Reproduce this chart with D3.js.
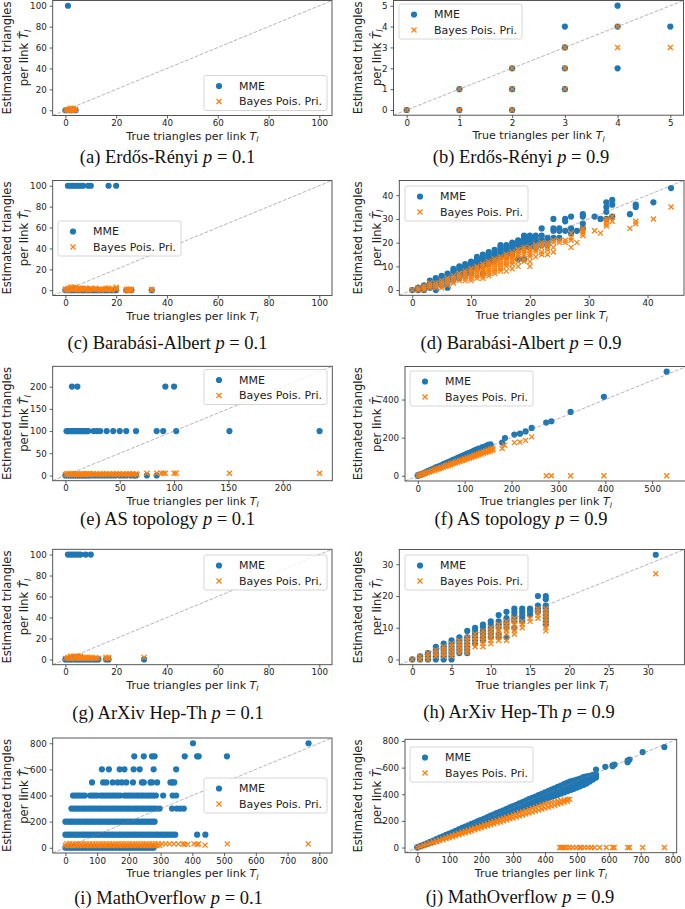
<!DOCTYPE html>
<html>
<head>
<meta charset="utf-8">
<script src="https://cdn.jsdelivr.net/npm/d3@7"></script>
<style>
  body { margin: 0; background: #fff; }
  svg text { font-family: 'DejaVu Sans', sans-serif; }
  svg text.cap { font-family: 'Liberation Serif', serif; }
</style>
</head>
<body>
<svg id="fig" width="685" height="909"></svg>
<script>
// ---- data ----
// rows: [y, [x...]]   cols: [x, [y...]]
const mmeA = [[100, [1]], [0, [0, 1, 2, 3, 4]]];
const bayA = [[0, [0]], [1, [0, 1]], [2, [0, 1, 2]], [3, [0, 1, 2]], [4, [0, 1]]];

const mmeB = [[0, [0]], [1, [0, 1]], [2, [0, 1, 2]], [3, [1, 2, 3, 4]], [4, [2, 4, 5]], [5, [4]]];
const bayB = [[0, [0]], [1, [0, 1]], [2, [0, 1, 2]], [3, [1, 2, 3]], [4, [3, 4]], [5, [3]]];

const mmeC = [
  [100, [1, 2, 3, 4, 5, 6, 7, 9, 10, 17, 20]],
  [0, [0, 1, 2, 3, 4, 5, 6, 7, 8, 9, 10, 11, 12, 13, 14, 15, 16, 17, 18, 19, 20, 24, 25, 26, 34]]
];
const bayC = [
  [0, [0, 1, 5, 9, 14, 18, 24, 25, 26, 34]],
  [1, [0, 1, 2, 3, 4, 5, 6, 7, 8, 9, 10, 11, 12, 13, 14, 15, 16, 17, 18, 20, 24, 25, 26, 34]],
  [2, [1, 2, 3, 4, 5, 6, 7, 8, 10, 12, 16, 17, 20]],
  [3, [2, 3, 4, 20]]
];

const mmeD = [
  [0, [0]], [1, [1, 0]], [2, [2, 1, 0]], [3, [4, 3, 2, 1]], [4, [5, 4, 3, 2, 0]],
  [5, [6, 5, 4, 3, 2]], [6, [7, 6, 5, 4, 3, 1]], [7, [9, 8, 7, 6, 5, 4]], [8, [10, 9, 8, 7, 6, 5]],
  [9, [11, 10, 9, 8, 7, 6]], [10, [12, 11, 10, 9, 8, 7]], [11, [14, 13, 12, 11, 10, 9]],
  [12, [15, 14, 13, 12, 11, 10, 7]], [13, [16, 15, 14, 13, 12, 11]], [14, [17, 16, 15, 14, 13, 12]],
  [15, [19, 18, 17, 16, 15, 14]], [16, [19, 18, 17, 16, 15, 14]], [17, [20, 19, 18, 17, 16, 15]],
  [18, [21, 20, 19, 18, 17, 13]], [19, [23, 22, 21, 20, 19, 18, 13]], [20, [23, 22, 21, 20, 19, 18]],
  [21, [23, 22, 21, 20, 18]], [22, [26, 23, 21, 19]], [23, [22, 21, 20, 19]], [24, [30, 26, 25, 22]],
  [25, [26, 25, 22]], [26, [30, 29, 25]], [27, [31, 26, 24]], [28, [25]], [29, [32, 31, 28, 26]],
  [31, [31]], [32, [30]], [33, [37, 35, 33, 30]], [34, [38, 36, 31]], [37, [32]], [38, [36, 35]],
  [41, [37]], [44, [43]]
];
const bayD = [
  [0, [0]], [1, [1, 0]], [2, [2, 1, 0]], [3, [3, 2, 1]], [4, [3, 2, 1]], [5, [4, 3, 2, 1]],
  [6, [5, 4, 3, 2]], [7, [6, 5, 4, 3]], [8, [7, 6, 5, 4]], [9, [8, 7, 6, 5, 4]],
  [10, [9, 8, 7, 6, 5, 4]], [11, [10, 9, 8, 7, 6, 5]], [12, [11, 10, 9, 8, 7, 6, 5]],
  [13, [12, 11, 10, 9, 8, 7, 6]], [14, [13, 12, 11, 10, 9, 8, 7]], [15, [14, 13, 12, 11, 10, 9, 8]],
  [16, [15, 14, 13, 12, 11, 10, 8]], [17, [16, 15, 14, 13, 12, 11, 9]], [18, [17, 16, 15, 14, 12, 10]],
  [19, [18, 17, 16, 15, 13, 12]], [20, [18, 17, 16, 15, 14, 12, 10]], [21, [19, 18, 17, 16, 14]],
  [22, [20, 19, 18, 16, 15]], [23, [20, 19, 18, 17, 15]], [24, [21, 20, 18, 16]], [25, [21, 20]],
  [26, [21, 20]], [27, [24, 22, 21, 18]], [28, [20]], [29, [26, 25, 24, 23]], [31, [25]], [32, [24]],
  [33, [30, 29, 28, 27]], [34, [31, 29]], [37, [26]], [38, [29, 28]], [41, [30]], [44, [35]]
];

const mmeE = [
  [200, [6, 11, 92, 100]],
  [100, [1, 2, 3, 4, 5, 6, 7, 8, 9, 10, 11, 12, 13, 14, 15, 16, 17, 18, 19, 20, 21, 26, 29, 32, 38, 44, 50, 56, 65, 84, 90, 102, 151, 234]],
  [0, [0, 2, 4, 6, 8, 10, 12, 14, 16, 18, 20, 22, 25, 28, 31, 34, 37, 40, 43, 46, 50, 53, 56, 60, 63, 65, 75, 84]]
];
const bayE = [
  [2, [0, 2, 4, 6, 8, 10, 12, 14, 16, 18, 20, 22, 24, 27, 30, 33, 36, 39, 42, 45, 48, 51, 54, 57, 60, 63, 66]],
  [4, [1, 3, 5, 7, 9, 11, 13, 15, 17, 19, 21, 23, 26, 29, 32, 35, 38, 41, 44, 47, 50, 53, 56, 59, 62, 65]],
  [5, [75, 84, 88, 90, 92, 100, 102, 151, 234]]
];

const mmeF = [
  [0, [0, 3]], [5, [4, 7]], [10, [10, 12]], [15, [15, 17]], [20, [20, 23]], [25, [26, 28]], [30, [31, 34]],
  [35, [36, 39]], [40, [41, 45]], [45, [47, 50]], [50, [52, 55]], [55, [57, 61]], [60, [63, 66]],
  [65, [68, 72]], [70, [73, 77]], [75, [78, 83]], [80, [84, 88]], [85, [89, 94]], [90, [94, 99]],
  [95, [100, 105]], [100, [105, 110]], [105, [110, 116]], [110, [115, 121]], [115, [121, 126]],
  [120, [126, 132]], [125, [131, 137]], [130, [136, 143]], [138, [145, 150]], [145, [152, 156]],
  [150, [157, 162]], [155, [160, 165]], [180, [174]], [186, [198]], [206, [216]], [218, [221]],
  [230, [233]], [243, [251]], [274, [279]], [285, [286]], [326, [335]], [397, [414]], [531, [546]]
];
const bayF = [
  [0, [0]], [5, [3, 5]], [10, [7, 9]], [15, [12, 14]], [20, [16, 18]], [25, [20, 22]], [30, [24, 27]],
  [35, [29, 31]], [40, [33, 36]], [45, [37, 40]], [50, [41, 45]], [55, [46, 49]], [60, [50, 54]],
  [65, [54, 58]], [70, [58, 63]], [75, [63, 67]], [80, [67, 72]], [85, [71, 76]], [90, [75, 81]],
  [95, [80, 85]], [100, [84, 90]], [105, [88, 94]], [110, [92, 99]], [115, [97, 103]], [120, [101, 108]],
  [125, [105, 112]], [130, [110, 117]], [135, [114, 122]], [140, [118, 126]], [145, [122, 130]],
  [150, [126, 135]], [155, [130, 139]], [160, [135, 143]], [180, [143]], [185, [160]], [206, [174]],
  [218, [177]], [230, [186]], [243, [204]], [274, [0]], [285, [0]], [326, [0]], [397, [0]], [531, [0]]
];

const mmeG = [
  [100, [1, 2, 3, 4, 5, 6, 8, 10]],
  [0, [0, 1, 2, 3, 4, 5, 6, 7, 8, 9, 10, 11, 12, 13, 16, 17, 31]]
];
const bayG = [
  [1, [0, 1, 2, 3, 4, 5, 6, 7, 8, 9, 10, 11, 12, 13, 16, 17]],
  [2, [1, 2, 3, 4, 5, 6, 7, 8, 9, 10, 12, 16, 17, 31]],
  [3, [2, 3, 4, 5, 6]]
];

const mmeH = [
  [0, [0]], [1, [1, 0]], [2, [2, 1, 0]], [3, [4, 3, 2, 1, 0]], [4, [5, 4, 3, 2, 1, 0]],
  [5, [6, 5, 4, 3, 2, 1, 0]], [6, [7, 6, 5, 4, 3, 2]], [7, [9, 7, 6, 5, 4, 3, 2]],
  [8, [10, 9, 8, 7, 6, 5]], [9, [11, 10, 9, 8, 7, 6]], [10, [12, 11, 10, 9, 8, 7]],
  [11, [14, 12, 11, 10, 8, 7]], [12, [15, 13, 12, 11, 10, 7]], [13, [16, 15, 14, 13, 12, 10]],
  [14, [16, 15, 14, 13, 12]], [15, [16, 15, 14]], [16, [20, 17, 16, 15]],
  [17, [20, 19, 17, 16, 15, 14, 13, 12, 11]], [31, [33]]
];
const bayH = [
  [0, [0]], [1, [1, 0]], [2, [2, 1, 0]], [3, [3, 2, 1]], [4, [4, 3, 2, 1]], [5, [5, 4, 3, 2, 1]],
  [6, [6, 5, 4, 3, 2]], [7, [7, 6, 5, 4, 3, 2]], [8, [8, 7, 6, 5, 4]], [9, [9, 8, 7, 6, 5, 4]],
  [10, [10, 9, 8, 7, 6, 5]], [11, [11, 10, 9, 8, 7, 6]], [12, [12, 11, 10, 9, 8, 6]],
  [13, [13, 12, 11, 10, 9, 8]], [14, [12, 11, 10]], [15, [13, 12]], [16, [16, 15, 14, 13]],
  [17, [16, 15, 14, 13, 12, 11, 10, 9]], [31, [27]]
];

const mmeI = [
  [800, [402, 766]],
  [700, [217, 247, 273, 281, 376, 415, 420, 509]],
  [600, [115, 137, 171, 186, 215, 234, 278, 349]],
  [500, [84, 119, 129, 149, 165, 178, 192, 213, 241, 247, 268, 273, 289, 331, 338, 343]],
  [400, [24, 31, 39, 46, 54, 61, 78, 86, 93, 101, 112, 119, 127, 134, 142, 150, 157, 165, 173, 186, 193, 201, 208, 216, 224, 231, 239, 246, 254, 262, 269, 277, 285, 308, 338, 349]],
  [300, [19, 26, 34, 41, 49, 57, 64, 72, 80, 87, 95, 103, 110, 118, 126, 133, 141, 149, 156, 164, 172, 179, 187, 195, 202, 210, 218, 225, 233, 241, 248, 256, 264, 271, 279, 287, 297, 336, 351, 362, 373]],
  [200, [0, 7, 15, 22, 30, 38, 45, 53, 61, 68, 76, 84, 91, 99, 107, 114, 122, 130, 137, 145, 153, 160, 168, 176, 183, 191, 199, 206, 214, 222, 229, 237, 245, 252, 260, 268, 275, 281]],
  [100, [0, 8, 15, 23, 31, 38, 46, 54, 61, 69, 77, 84, 92, 100, 107, 115, 123, 130, 138, 146, 153, 161, 169, 176, 184, 192, 199, 207, 215, 222, 230, 238, 245, 253, 261, 268, 276, 284, 291, 299, 307, 314, 322, 330, 338, 346, 415, 441]],
  [0, [0, 8, 16, 24, 32, 40, 48, 55, 63, 71, 79, 87, 95, 103, 111, 119, 127, 135, 143, 150, 158, 166, 174, 182, 190, 198, 206, 214, 222, 230, 238, 246, 254, 262, 270, 278]]
];
const bayI = [
  [18, [0, 9, 18, 27, 36, 45, 54, 63, 72, 81, 90, 99, 108, 117, 126, 135, 144, 153, 162, 171, 180, 189, 198, 207, 216, 225, 234, 243, 252, 261, 270, 279, 288, 297]],
  [30, [4, 13, 22, 31, 40, 49, 58, 67, 76, 85, 94, 103, 112, 121, 130, 139, 148, 157, 166, 175, 184, 193, 202, 211, 220, 229, 238, 247, 256, 265, 274, 283, 292, 304, 316, 328, 342, 356, 370, 405, 420, 510, 765]],
  [26, [376, 385, 415]],
  [20, [440]]
];

const mmeJ = [
  [0, [0, 4]], [10, [9, 12]], [20, [18, 22]], [30, [27, 32]], [40, [36, 43]], [50, [45, 53]],
  [60, [54, 63]], [70, [63, 74]], [80, [72, 84]], [90, [81, 95]], [100, [90, 105]], [110, [99, 115]],
  [120, [108, 126]], [130, [117, 136]], [140, [126, 147]], [150, [135, 144, 157]], [160, [144, 154, 167]],
  [170, [153, 164, 177]], [180, [162, 174, 187]], [190, [171, 183, 198]], [200, [180, 193, 208]],
  [210, [189, 203, 218]], [220, [198, 212, 229]], [230, [207, 222, 239]], [240, [216, 232, 249]],
  [250, [225, 241, 260]], [260, [234, 251, 270]], [270, [243, 260, 280]], [280, [252, 270, 291]],
  [290, [261, 280, 301]], [300, [270, 289, 311]], [310, [279, 299, 321]], [320, [288, 309, 332]],
  [330, [297, 318, 342]], [340, [306, 328, 352]], [350, [315, 338, 363]], [360, [324, 347, 373]],
  [370, [333, 357, 383]], [380, [342, 366, 394]], [390, [351, 376, 404]], [400, [360, 386, 414]],
  [410, [369, 395, 424]], [420, [378, 405, 435]], [430, [387, 415, 445]], [440, [396, 424, 455]],
  [450, [405, 434, 466]], [460, [414, 444, 476]], [470, [423, 453, 487]], [480, [432, 463, 497]],
  [490, [441, 473, 503]], [500, [450, 482, 510]], [510, [460, 492, 518]], [520, [470, 502, 528]],
  [530, [480, 510, 535]], [540, [495, 520, 538]], [550, [510, 532, 545]], [560, [525, 548, 586]],
  [589, [606]], [612, [611, 618]], [618, [623]], [659, [641, 652]], [665, [661]], [706, [717]], [774, [755]]
];
const bayJ = [
  [0, [0]], [10, [7, 8]], [20, [15, 17]], [30, [22, 25]], [40, [30, 33]], [50, [37, 41]], [60, [44, 49]],
  [70, [52, 57]], [80, [59, 65]], [90, [67, 74]], [100, [74, 82]], [110, [81, 90]], [120, [89, 98]],
  [130, [96, 106]], [140, [104, 114]], [150, [111, 122]], [160, [118, 131]], [170, [126, 139]],
  [180, [133, 147]], [190, [141, 155]], [200, [148, 163]], [210, [155, 171]], [220, [163, 179]],
  [230, [170, 188]], [240, [178, 196]], [250, [185, 204]], [260, [192, 212]], [270, [200, 220]],
  [280, [207, 228]], [290, [215, 236]], [300, [222, 245]], [310, [229, 253]], [320, [237, 261]],
  [330, [244, 269]], [340, [252, 277]], [350, [259, 285]], [360, [266, 293]], [370, [274, 301]],
  [380, [281, 309]], [390, [289, 317]], [400, [296, 325]], [410, [303, 333]], [420, [311, 339]],
  [430, [318, 345]], [440, [326, 350]], [450, [333, 354]], [460, [340, 358]], [470, [348, 361]],
  [477, [363]], [446, [0]], [451, [0]], [456, [0]], [461, [0]], [467, [0]], [477, [0]], [487, [0]],
  [498, [0]], [508, [0]], [513, [0]], [523, [0]], [534, [0]], [545, [0]], [555, [0]], [571, [0]],
  [592, [0]], [612, [0]], [617, [0]], [659, [0]], [665, [0]], [706, [0]], [774, [0]]
];

// tick values
const ticks100 = [0, 20, 40, 60, 80, 100];
const ticks5 = [0, 1, 2, 3, 4, 5];
const ticks40 = [0, 10, 20, 30, 40];
const ticks200 = [0, 50, 100, 150, 200];
const ticks500 = [0, 100, 200, 300, 400, 500];
const ticks400 = [0, 200, 400];
const ticks30x = [0, 5, 10, 15, 20, 25, 30];
const ticks30y = [0, 10, 20, 30];
const ticks800x = [0, 100, 200, 300, 400, 500, 600, 700, 800];
const ticks800y = [0, 200, 400, 600, 800];

const captions = ['(a) Erdős-Rényi', '(b) Erdős-Rényi', '(c) Barabási-Albert', '(d) Barabási-Albert',
  '(e) AS topology', '(f) AS topology', '(g) ArXiv Hep-Th', '(h) ArXiv Hep-Th',
  '(i) MathOverflow', '(j) MathOverflow'];
const probs = ['0.1', '0.9', '0.1', '0.9', '0.1', '0.9', '0.1', '0.9', '0.1', '0.9'];
const maxVals = [100, 5, 100, 44, 234, 546, 100, 33, 800, 774];
const seriesNames = ['MME', 'Bayes Pois. Pri.'];

const fromRows = rows => rows.flatMap(([yv, xs]) => xs.map(xv => [xv, yv]));
const fromCols = cols => cols.flatMap(([xv, ys]) => ys.map(yv => [xv, yv]));

// ---- layout ----
const L = 'left', R = 'right';
const panels = [
  { mme: fromRows(mmeA), bay: fromCols(bayA), xt: ticks100, yt: ticks100, box: [52.7, 0.5, 332, 115.5], col: L, leg: [204, 75.5], cap: [167.5, 163] },
  { mme: fromCols(mmeB), bay: fromCols(bayB), xt: ticks5, yt: ticks5, box: [393.5, 0.5, 683.5, 115.2], col: R, leg: [399, 4], cap: [521, 163] },
  { mme: fromRows(mmeC), bay: fromRows(bayC), xt: ticks100, yt: ticks100, box: [52.7, 180.5, 332, 295.5], col: L, leg: [58, 221], cap: [167.5, 349] },
  { mme: fromCols(mmeD), bay: fromCols(bayD), xt: ticks40, yt: ticks40, box: [399.3, 180.5, 684, 295.3], col: R, leg: [405, 186], cap: [521, 349] },
  { mme: fromRows(mmeE), bay: fromRows(bayE), xt: ticks200, yt: ticks200, box: [52.7, 366.3, 332.3, 480.7], col: L, leg: [204, 369.5], cap: [167.5, 525] },
  { mme: fromCols(mmeF), bay: fromCols(bayF), xt: ticks500, yt: ticks400, box: [405, 366.5, 686.5, 481], col: R, leg: [410, 371], cap: [521, 525] },
  { mme: fromRows(mmeG), bay: fromRows(bayG), xt: ticks100, yt: ticks100, box: [52.7, 549.3, 332, 664.7], col: L, leg: [204, 555], cap: [168, 719] },
  { mme: fromCols(mmeH), bay: fromCols(bayH), xt: ticks30x, yt: ticks30y, box: [399.3, 549.5, 684.4, 664.7], col: R, leg: [405, 555], cap: [519, 717.5] },
  { mme: fromRows(mmeI), bay: fromRows(bayI), xt: ticks800x, yt: ticks800y, box: [52.7, 738, 332, 853], col: L, leg: [204, 778], cap: [168.5, 904] },
  { mme: fromCols(mmeJ), bay: fromCols(bayJ), xt: ticks800x, yt: ticks800y, box: [405, 739.3, 676.7, 852.7], col: R, leg: [410, 747], cap: [520, 903] }
];

const blue = '#1f77b4', orange = '#ff7f0e';
const xMark = 'M-2.5,-2.5L2.5,2.5M-2.5,2.5L2.5,-2.5';

const svg = d3.select('#fig');
svg.append('rect').attr('width', 685).attr('height', 909).attr('fill', '#fff');

panels.forEach((p, i) => {
  const [l, t, r, b] = p.box;
  const m = maxVals[i];
  const x = d3.scaleLinear().domain([-0.05 * m, 1.05 * m]).range([l, r]);
  const y = d3.scaleLinear().domain([-0.05 * m, 1.05 * m]).range([b, t]);
  const g = svg.append('g');

  const clipId = 'clip' + i;
  g.append('clipPath').attr('id', clipId)
    .append('rect').attr('x', l).attr('y', t).attr('width', r - l).attr('height', b - t);

  const plot = g.append('g').attr('clip-path', `url(#${clipId})`);

  plot.selectAll('circle')
    .data(p.mme)
    .join('circle')
    .attr('cx', d => x(d[0]))
    .attr('cy', d => y(d[1]))
    .attr('r', 3.1)
    .attr('fill', blue);

  plot.selectAll('path.bay')
    .data(p.bay)
    .join('path')
    .attr('class', 'bay')
    .attr('transform', d => `translate(${x(d[0])},${y(d[1])})`)
    .attr('d', xMark)
    .attr('stroke', orange)
    .attr('stroke-width', 1.3)
    .attr('fill', 'none');

  // y = x reference
  plot.append('line')
    .attr('x1', x(-0.05 * m)).attr('y1', y(-0.05 * m))
    .attr('x2', x(1.05 * m)).attr('y2', y(1.05 * m))
    .attr('stroke', 'gray')
    .attr('stroke-opacity', 0.65)
    .attr('stroke-width', 0.9)
    .attr('stroke-dasharray', '3.7,1.6');

  // axes
  const fmt = d3.format('d');
  const xa = g.append('g')
    .attr('transform', `translate(0,${b})`)
    .call(d3.axisBottom(x).tickValues(p.xt).tickFormat(fmt).tickSize(3).tickPadding(1.5));
  const ya = g.append('g')
    .attr('transform', `translate(${l},0)`)
    .call(d3.axisLeft(y).tickValues(p.yt).tickFormat(fmt).tickSize(3).tickPadding(3));
  [xa, ya].forEach(a => {
    a.attr('font-family', null);
    a.select('.domain').remove();
    a.selectAll('line').attr('stroke', '#333').attr('stroke-width', 0.8);
    a.selectAll('text').attr('font-size', 8.7).attr('fill', '#222');
  });

  g.append('rect')
    .attr('x', l).attr('y', t).attr('width', r - l).attr('height', b - t)
    .attr('fill', 'none').attr('stroke', '#444').attr('stroke-width', 0.9);

  // x label
  const xl = g.append('text')
    .attr('x', (l + r) / 2).attr('y', b + 24)
    .attr('text-anchor', 'middle')
    .attr('font-size', 11).attr('fill', '#222');
  xl.append('tspan').text('True triangles per link ');
  xl.append('tspan').attr('font-style', 'italic').text('T');
  xl.append('tspan').attr('font-style', 'italic').attr('font-size', 7.7).attr('dy', 2.7).text('l');

  // y label (two lines)
  const cy = (t + b) / 2;
  const ylx = p.col === L ? [11, 28] : [362, 380.5];
  g.append('text')
    .attr('transform', `translate(${ylx[0]},${cy}) rotate(-90)`)
    .attr('text-anchor', 'middle')
    .attr('font-size', 11.6).attr('fill', '#222')
    .text('Estimated triangles');
  const yl2 = g.append('text')
    .attr('transform', `translate(${ylx[1]},${cy}) rotate(-90)`)
    .attr('text-anchor', 'middle')
    .attr('font-size', 11.6).attr('fill', '#222');
  yl2.append('tspan').text('per link ');
  yl2.append('tspan').attr('font-style', 'italic').text('T\u0302');
  yl2.append('tspan').attr('font-style', 'italic').attr('font-size', 8).attr('dy', 2.7).text('l');

  // legend
  const [lx, ly] = p.leg;
  const lg = g.append('g').attr('transform', `translate(${lx},${ly})`);
  lg.append('rect')
    .attr('width', 123).attr('height', 35).attr('rx', 2)
    .attr('fill', '#fff').attr('fill-opacity', 0.8)
    .attr('stroke', '#ccc').attr('stroke-width', 0.8);
  lg.append('circle').attr('cx', 15).attr('cy', 10.5).attr('r', 3.1).attr('fill', blue);
  lg.append('path').attr('transform', 'translate(15,26)').attr('d', xMark)
    .attr('stroke', orange).attr('stroke-width', 1.3);
  seriesNames.forEach((s, k) => {
    lg.append('text')
      .attr('x', 35).attr('y', k === 0 ? 10.5 : 26)
      .attr('dy', '0.35em')
      .attr('font-size', 11).attr('fill', '#222')
      .text(s);
  });

  // caption
  const cap = svg.append('text')
    .attr('class', 'cap')
    .attr('x', p.cap[0]).attr('y', p.cap[1])
    .attr('text-anchor', 'middle')
    .attr('font-size', 18.5).attr('fill', '#111');
  cap.append('tspan').text(captions[i] + ' ');
  cap.append('tspan').attr('font-style', 'italic').text('p');
  cap.append('tspan').text(' = ' + probs[i]);
});
</script>
</body>
</html>
